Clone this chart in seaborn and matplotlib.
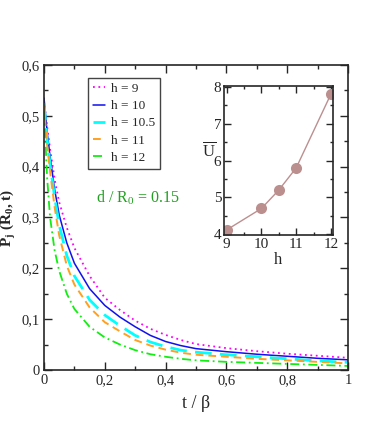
import numpy as np
import pandas as pd
import seaborn as sns
from matplotlib import pyplot as plt
from matplotlib.ticker import MultipleLocator, FuncFormatter

# data
t_beta = [0, 0.01, 0.02, 0.035, 0.05, 0.075, 0.1, 0.15, 0.2, 0.25, 0.3, 0.35, 0.4, 0.45, 0.5, 0.6, 0.7, 0.8, 0.9, 1.0]
p_h9 = [0.53, 0.48, 0.435, 0.375, 0.33, 0.28, 0.24, 0.185, 0.142, 0.118, 0.097, 0.081, 0.069, 0.059, 0.051, 0.043, 0.037, 0.032, 0.028, 0.024]
p_h10 = [0.535, 0.47, 0.42, 0.355, 0.305, 0.25, 0.21, 0.16, 0.127, 0.104, 0.085, 0.068, 0.056, 0.048, 0.042, 0.036, 0.031, 0.027, 0.023, 0.020]
p_h105 = [0.525, 0.455, 0.405, 0.34, 0.285, 0.225, 0.185, 0.138, 0.108, 0.087, 0.068, 0.055, 0.046, 0.039, 0.035, 0.030, 0.026, 0.022, 0.018, 0.015]
p_h11 = [0.52, 0.445, 0.39, 0.32, 0.265, 0.205, 0.168, 0.123, 0.094, 0.076, 0.059, 0.048, 0.040, 0.034, 0.030, 0.026, 0.022, 0.019, 0.016, 0.013]
p_h12 = [0.51, 0.38, 0.30, 0.235, 0.195, 0.15, 0.12, 0.085, 0.064, 0.050, 0.039, 0.031, 0.026, 0.022, 0.019, 0.016, 0.014, 0.012, 0.010, 0.008]

h_labels = ['h = 9', 'h = 10', 'h = 10.5', 'h = 11', 'h = 12']
h_values = [9, 10, 10.5, 11, 12]
u_mean = [4.12, 4.7, 5.2, 5.8, 7.8]

colors = ['#ff00ff', '#1010ee', '#00ffff', '#ffa020', '#11ee11']
styles = [(0, (1, 2)), '-', (0, (6, 3)), (0, (4, 2.5)), (0, (5, 2, 1, 2))]
widths = [1.3, 1.1, 2.0, 1.4, 1.3]

sns.set_style('ticks')
plt.rcParams['font.family'] = ['Liberation Serif', 'DejaVu Serif']
plt.rcParams['mathtext.default'] = 'regular'

df = pd.DataFrame({'t': t_beta * 5,
                   'P': p_h9 + p_h10 + p_h105 + p_h11 + p_h12,
                   'h': [lab for lab in h_labels for _ in t_beta]})

fig = plt.figure(figsize=(3.82, 4.36), dpi=100)
ax = fig.add_axes([0.1152, 0.1514, 0.7958, 0.6995])

for lab, c, ls, lw in zip(h_labels, colors, styles, widths):
    sns.lineplot(data=df[df['h'] == lab], x='t', y='P', ax=ax, color=c,
                 linestyle=ls, linewidth=lw, label=lab)

ax.set_xlim(0, 1)
ax.set_ylim(0, 0.6)
ax.xaxis.set_major_locator(MultipleLocator(0.2))
ax.xaxis.set_minor_locator(MultipleLocator(0.1))
ax.yaxis.set_major_locator(MultipleLocator(0.1))
ax.yaxis.set_minor_locator(MultipleLocator(0.05))
comma = FuncFormatter(lambda v, pos: ('%g' % round(v, 2)).replace('.', ','))
ax.xaxis.set_major_formatter(comma)
ax.yaxis.set_major_formatter(comma)
ax.tick_params(which='both', direction='in', top=True, right=True, labelsize=10.5, pad=3)
ax.tick_params(which='major', length=6, width=1)
ax.tick_params(which='minor', length=3, width=1)
for s in ax.spines.values():
    s.set_linewidth(1.2)
ax.set_xlabel('t / β', fontsize=13, labelpad=6)
ax.set_ylabel('P$_{j}$ (R$_{0}$, t)', fontsize=11, fontweight='bold')
ax.yaxis.set_label_coords(-0.085, 0.5)

leg = ax.legend(loc='upper left', bbox_to_anchor=(0.145, 0.957), fontsize=9.5,
                handlelength=0.9, handletextpad=0.5, labelspacing=0.38,
                borderpad=0.35, borderaxespad=0, fancybox=False, framealpha=1)
leg.get_frame().set_edgecolor('#444444')
leg.get_frame().set_linewidth(1.0)

ax.text(0.171, 0.329, 'd / R$_{0}$ = 0.15', color='#22a022', fontsize=11.5, va='baseline')

ins = fig.add_axes([0.5864, 0.461, 0.2853, 0.3417])
sns.lineplot(x=h_values, y=u_mean, ax=ins, color='#bc8f8f', linewidth=1.0,
             marker='o', markersize=8, markeredgewidth=0)
ins.set_xlim(8.92, 12.06)
ins.set_ylim(3.98, 8.02)
ins.xaxis.set_major_locator(MultipleLocator(1))
ins.xaxis.set_minor_locator(MultipleLocator(0.5))
ins.yaxis.set_major_locator(MultipleLocator(1))
ins.yaxis.set_minor_locator(MultipleLocator(0.5))
ins.tick_params(which='both', direction='in', top=True, right=True, labelsize=11, pad=2)
ins.tick_params(which='major', length=5, width=1)
ins.tick_params(which='minor', length=2.5, width=1)
for s in ins.spines.values():
    s.set_linewidth(1.2)
ins.set_xlabel('h', fontsize=12, labelpad=1)
ins.set_ylabel(r'$\overline{U}$', fontsize=12, labelpad=3, rotation=0)

fig.savefig('out.png', dpi=100)
